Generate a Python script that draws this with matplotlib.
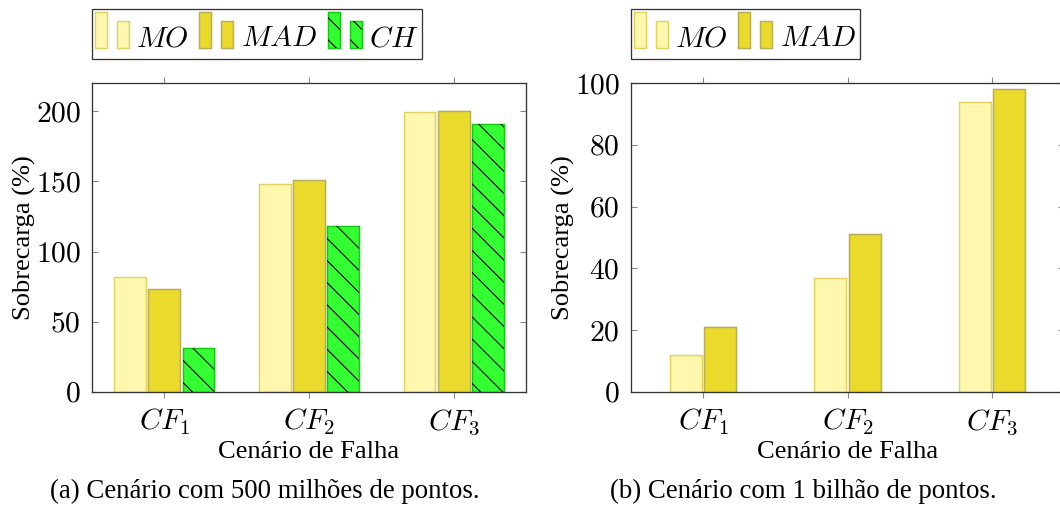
import matplotlib
matplotlib.use("Agg")
import matplotlib.pyplot as plt
from matplotlib.patches import Rectangle
from matplotlib.legend_handler import HandlerBase
from matplotlib.ticker import FuncFormatter
import numpy as np

# data
cenarios = ["$CF_1$", "$CF_2$", "$CF_3$"]
mo_500 = [82, 148, 199]
mad_500 = [73, 151, 200]
ch_500 = [31, 118, 191]
mo_1b = [12, 37, 94]
mad_1b = [21, 51, 98]

MO_FILL, MO_EDGE = "#fff7ae", "#e2d262"
MAD_FILL, MAD_EDGE = "#e9da2b", "#b8ad58"
CH_FILL, CH_EDGE = "#33ff33", "#14c814"
HATCH = "\\\\"

plt.rcParams["font.family"] = ["Liberation Serif", "DejaVu Serif"]
plt.rcParams["mathtext.fontset"] = "cm"
plt.rcParams["hatch.linewidth"] = 0.6

DPI = 400 / 3.0
W, H = 1060, 510
fig = plt.figure(figsize=(W / DPI, H / DPI), dpi=DPI)


class TwoBars(HandlerBase):
    # pgfplots style ybar legend: a tall and a short bar
    def legend_artist(self, legend, orig_handle, fontsize, handlebox):
        handlebox.ydescent = 5.4
        handlebox.height = 5.4 + 18.5
        return super().legend_artist(legend, orig_handle, fontsize, handlebox)

    def create_artists(self, legend, orig, xd, yd, width, height, fontsize, trans):
        fc, ec, hatch = orig
        out = []
        for dx, h in [(0, 19.5), (11.9, 14.6)]:
            out.append(Rectangle((-xd + dx, -1.0), 6.4, h, facecolor=fc,
                                 edgecolor=ec, lw=0.8, transform=trans))
            if hatch:
                out.append(Rectangle((-xd + dx, -1.0), 6.4, h, facecolor="none",
                                     edgecolor="black", hatch=hatch, lw=0,
                                     transform=trans))
        return out


def setup(ax, ymax, yticks):
    ax.set_xlim(-0.5, 2.5)
    ax.set_ylim(0, ymax)
    ax.set_xticks(range(3))
    ax.set_xticklabels(cenarios, fontsize=16)
    ax.set_yticks(yticks)
    ax.yaxis.set_major_formatter(FuncFormatter(lambda v, p: "$%d$" % v))
    ax.tick_params(axis="y", direction="in", left=True, right=True, length=3.2,
                   width=0.6, color="#888888", labelsize=16, pad=6)
    ax.tick_params(axis="x", direction="out", top=True, bottom=True, length=3.2,
                   width=0.6, color="#888888", pad=5)
    for s in ax.spines.values():
        s.set_color("#333333")
        s.set_linewidth(0.7)
    ax.set_ylabel("Sobrecarga (%)", fontsize=14.3, labelpad=0)
    ax.set_xlabel("Cenário de Falha", fontsize=14.3, labelpad=2)


def add_legend(x0, items):
    handles = [(fc, ec, ht) for fc, ec, ht, _ in items]
    labels = [lb for _, _, _, lb in items]
    leg = fig.legend(handles, labels, handler_map={tuple: TwoBars()},
                     loc="upper left", bbox_to_anchor=(x0 / W, 1 - 9 / H),
                     ncol=len(items), fontsize=16, frameon=True, fancybox=False,
                     edgecolor="black", borderaxespad=0, borderpad=0.1,
                     handlelength=1.15, handletextpad=0.25, columnspacing=0.35)
    leg.get_frame().set_linewidth(0.7)
    return leg


x = np.arange(3)
bw = 0.22

# (a) 500 milhoes
ax1 = fig.add_axes([92 / W, 1 - 392 / H, 434 / W, 309 / H])
ax1.bar(x - 0.236, mo_500, bw, color=MO_FILL, edgecolor=MO_EDGE, lw=0.8)
ax1.bar(x, mad_500, bw, color=MAD_FILL, edgecolor=MAD_EDGE, lw=0.8)
ax1.bar(x + 0.236, ch_500, bw, color=CH_FILL, edgecolor=CH_EDGE, lw=0.8)
ax1.bar(x + 0.236, ch_500, bw, color="none", edgecolor="black", lw=0, hatch=HATCH)
setup(ax1, 220, [0, 50, 100, 150, 200])

# (b) 1 bilhao
ax2 = fig.add_axes([631 / W, 1 - 392 / H, 433 / W, 309 / H])
ax2.bar(x - 0.119, mo_1b, bw, color=MO_FILL, edgecolor=MO_EDGE, lw=0.8)
ax2.bar(x + 0.119, mad_1b, bw, color=MAD_FILL, edgecolor=MAD_EDGE, lw=0.8)
setup(ax2, 100, [0, 20, 40, 60, 80, 100])

add_legend(92, [(MO_FILL, MO_EDGE, None, "$MO$"),
                (MAD_FILL, MAD_EDGE, None, "$MAD$"),
                (CH_FILL, CH_EDGE, HATCH, "$CH$")])
add_legend(631, [(MO_FILL, MO_EDGE, None, "$MO$"),
                 (MAD_FILL, MAD_EDGE, None, "$MAD$")])

fig.text(265 / W, 1 - 491 / H, "(a) Cenário com 500 milhões de pontos.",
         ha="center", va="center", fontsize=14.5)
fig.text(803 / W, 1 - 491 / H, "(b) Cenário com 1 bilhão de pontos.",
         ha="center", va="center", fontsize=14.5)

fig.savefig("out.png", dpi=DPI)
